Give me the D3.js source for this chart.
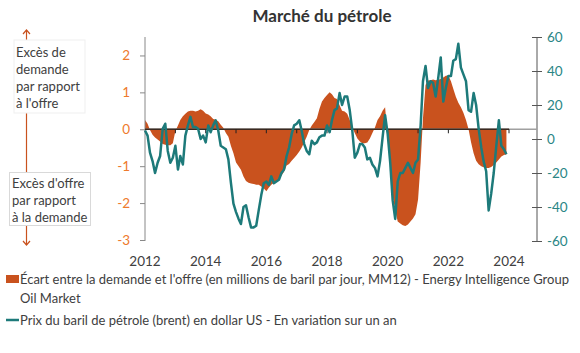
<!DOCTYPE html>
<html>
<head>
<meta charset="utf-8">
<script src="https://cdn.jsdelivr.net/npm/d3@7"></script>
<style>
  body { margin: 0; background: #fff; }
  svg { font-family: Lato, "Open Sans", sans-serif; }
</style>
</head>
<body>
<div id="chart"></div>
<script>
// monthly data, jan 2012 -> dec 2023
let gapValues = [
  0.25, 0.15, -0.02, -0.15, -0.22, -0.28, -0.33, -0.4, -0.42, -0.43, -0.43, -0.38,
  -0.05, 0.1, 0.25, 0.35, 0.42, 0.48, 0.5, 0.5, 0.48, 0.5, 0.54, 0.5,
  0.43, 0.4, 0.35, 0.28, 0.26, 0.22, 0.12, 0.04, -0.1, -0.2, -0.45, -0.65,
  -0.9, -1.0, -1.1, -1.28, -1.4, -1.45, -1.47, -1.48, -1.5, -1.5, -1.55, -1.6,
  -1.68, -1.58, -1.5, -1.45, -1.42, -1.38, -1.25, -1.15, -0.98, -0.94, -0.85, -0.78,
  -0.7, -0.6, -0.5, -0.35, -0.2, -0.02, 0.1, 0.2, 0.3, 0.55, 0.75, 0.85,
  0.93, 1.0, 0.95, 0.85, 0.82, 0.65, 0.5, 0.48, 0.42, 0.25, 0.05, -0.1,
  -0.25, -0.33, -0.38, -0.38, -0.36, -0.25, -0.1, 0.05, 0.25, 0.35, 0.5, 0.6,
  -0.2, -1.0, -1.8, -2.2, -2.5, -2.55, -2.6, -2.62, -2.58, -2.5, -2.42, -2.3,
  -1.9, -0.9, 0.3, 1.2, 1.32, 1.33, 1.35, 1.33, 1.34, 1.36, 1.4, 1.45,
  1.46, 1.3, 1.1, 0.88, 0.72, 0.6, 0.45, 0.25, 0.0, -0.35, -0.65, -0.85,
  -0.95, -1.0, -1.03, -1.05, -1.05, -1.02, -0.97, -0.9, -0.82, -0.74, -0.7, -0.68
];

let brentValues = [
  5, 2, -8, -13, -20, -14, -10, 6, 9, -7, -14, -11,
  -4, -18, -10, -15, 2, 8, 13, 7, 7, 6, 0, 2,
  -2, 8, 4, 8, 11, 5, -4, -5, -6, -12, -26, -38,
  -43, -47, -50, -40, -39, -46, -52, -52, -51, -42, -33, -26,
  -25, -27, -22, -26, -25, -24, -20, -18, -10, -5, 3, 8,
  9, 11, 5, -3, -7, -9, -1, -3, -2, 1, 2, 2,
  8, 4, 11, 17, 18, 27, 20, 25, 25, 17, 5, -11,
  -8, -3, -3, -5, -12, -11, -15, -17, -22, -13, 1, 14,
  3, -14, -36, -47, -25, -20, -20, -17, -14, -17, -20, -14,
  -12, 8, 34, 43, 30, 34, 33, 25, 36, 48, 22, 30,
  37, 37, 46, 47, 56, 42, 38, 34, 17, 16, 27, 20,
  6, -5, -13, -19, -42, -32, -20, -4, 11, -4, -6, -9
];

let months = d3.timeMonth.range(new Date(2012, 0, 1), new Date(2024, 0, 1));
let yearTicks = [2012, 2014, 2016, 2018, 2020, 2022, 2024];
let leftTicks = [2, 1, 0, -1, -2, -3];
let rightTicks = [60, 40, 20, 0, -20, -40, -60];

let title = "Marché du pétrole";
let legendGap = ["Écart entre la demande et l'offre (en millions de baril par jour, MM12) - Energy Intelligence Group", "Oil Market"];
let legendBrent = "Prix du baril de pétrole (brent) en dollar US - En variation sur un an";
let noteUp = ["Excès de", "demande", "par rapport", "à l'offre"];
let noteDown = ["Excès d'offre", "par rapport", "à la demande"];

let orange = "#c9521e";
let teal = "#1d7a7a";

let width = 580, height = 353;
let svg = d3.select("#chart").append("svg")
    .attr("width", width)
    .attr("height", height);

// scales
let x = d3.scaleTime()
    .domain([new Date(2012, 0, 1), new Date(2024, 0, 1)])
    .range([145, 509]);
let yLeft = d3.scaleLinear().domain([-3, 2.5]).range([240, 37]);
let yRight = d3.scaleLinear().domain([-60, 60]).range([241, 37]);

let plotRight = 537;

// title
svg.append("text")
    .attr("x", 322).attr("y", 22)
    .attr("text-anchor", "middle")
    .style("font-size", "17px")
    .style("font-weight", "bold")
    .style("fill", "#333")
    .text(title);

// area (gap demand / supply)
let area = d3.area()
    .x((d, i) => x(months[i]))
    .y0(yLeft(0))
    .y1(d => yLeft(d));

svg.append("path")
    .datum(gapValues)
    .attr("d", area)
    .style("fill", orange);

// left axis
let leftAxis = svg.append("g")
    .attr("transform", "translate(145,0)")
    .call(d3.axisLeft(yLeft).tickValues(leftTicks).tickSize(5).tickFormat(d3.format("d")));
leftAxis.select(".domain").attr("d", "M0,37V241").style("stroke", "#888");
leftAxis.selectAll(".tick line").style("stroke", "#888");
leftAxis.selectAll(".tick text")
    .attr("x", -15)
    .style("font-family", "Lato, sans-serif")
    .style("font-size", "13.5px")
    .style("fill", "#ee7a2c")
    .text(d => d < 0 ? "-" + Math.abs(d) : d);

// right axis
let rightAxis = svg.append("g")
    .attr("transform", "translate(" + plotRight + ",0)")
    .call(d3.axisRight(yRight).tickValues(rightTicks).tickSize(5));
rightAxis.select(".domain").attr("d", "M0,37V241").style("stroke", "#555");
rightAxis.selectAll(".tick line").attr("x1", -5).style("stroke", "#555");
rightAxis.selectAll(".tick text")
    .attr("x", 10)
    .style("font-family", "Lato, sans-serif")
    .style("font-size", "13.5px")
    .style("fill", "#2a8585")
    .text(d => d < 0 ? "-" + Math.abs(d) : d);

// horizontal zero axis
svg.append("line")
    .attr("x1", 145).attr("x2", plotRight)
    .attr("y1", yLeft(0)).attr("y2", yLeft(0))
    .style("stroke", "#a0a0a0").style("stroke-width", 1.5);
svg.append("line")
    .attr("x1", 145).attr("x2", x(new Date(2024, 0, 1)))
    .attr("y1", yLeft(0)).attr("y2", yLeft(0))
    .style("stroke", "#3b2a20").style("stroke-width", 1.5);

let yearDates = d3.timeYear.range(new Date(2013, 0, 1), new Date(2025, 0, 1));
svg.selectAll(".xtick")
    .data(yearDates)
    .enter().append("line")
    .attr("class", "xtick")
    .attr("x1", d => x(d)).attr("x2", d => x(d))
    .attr("y1", yLeft(0)).attr("y2", yLeft(0) + 4)
    .style("stroke", "#222");

// x labels
svg.selectAll(".xlabel")
    .data(yearTicks)
    .enter().append("text")
    .attr("class", "xlabel")
    .attr("x", d => x(new Date(d, 0, 1)))
    .attr("y", 266)
    .attr("text-anchor", "middle")
    .style("font-size", "13.5px")
    .style("fill", "#404040")
    .text(d => d);

// brent line
let line = d3.line()
    .x((d, i) => x(months[i]))
    .y(d => yRight(d));

svg.append("path")
    .datum(brentValues)
    .attr("d", line)
    .style("fill", "none")
    .style("stroke", teal)
    .style("stroke-width", 2.5)
    .style("stroke-linejoin", "round");

// left annotation: double arrow + notes
let ann = svg.append("g");
ann.append("line")
    .attr("x1", 26.5).attr("x2", 26.5)
    .attr("y1", 30).attr("y2", 245)
    .style("stroke", orange).style("stroke-width", 1.2);
ann.append("path")
    .attr("d", "M23,34L26.5,30L30,34M23,241L26.5,245L30,241")
    .style("fill", "none").style("stroke", orange).style("stroke-width", 1.2);

ann.append("rect")
    .attr("x", 14).attr("y", 40).attr("width", 71).attr("height", 73)
    .style("fill", "#fff").style("stroke", "#efefef");
ann.selectAll(".noteUp")
    .data(noteUp)
    .enter().append("text")
    .attr("x", 16)
    .attr("y", (d, i) => 56.5 + i * 17.3)
    .style("font-size", "13px")
    .style("fill", "#404040")
    .text(d => d);

ann.append("rect")
    .attr("x", 9.5).attr("y", 172.5).attr("width", 81).attr("height", 53)
    .style("fill", "#fff").style("stroke", "#d9d9d9");
ann.selectAll(".noteDown")
    .data(noteDown)
    .enter().append("text")
    .attr("x", 12)
    .attr("y", (d, i) => 187.5 + i * 17.3)
    .style("font-size", "13px")
    .style("fill", "#404040")
    .text(d => d);

// legend
let legend = svg.append("g");
legend.append("rect")
    .attr("x", 6).attr("y", 275).attr("width", 13).attr("height", 8)
    .style("fill", orange);
legend.selectAll(".leg1")
    .data(legendGap)
    .enter().append("text")
    .attr("x", 20)
    .attr("y", (d, i) => 283.5 + i * 19)
    .style("font-size", "13px")
    .style("fill", "#404040")
    .text(d => d);
legend.append("line")
    .attr("x1", 6).attr("x2", 19)
    .attr("y1", 320).attr("y2", 320)
    .style("stroke", teal).style("stroke-width", 2.5);
legend.append("text")
    .attr("x", 20).attr("y", 324.5)
    .style("font-size", "13px")
    .style("fill", "#404040")
    .text(legendBrent);
</script>
</body>
</html>
